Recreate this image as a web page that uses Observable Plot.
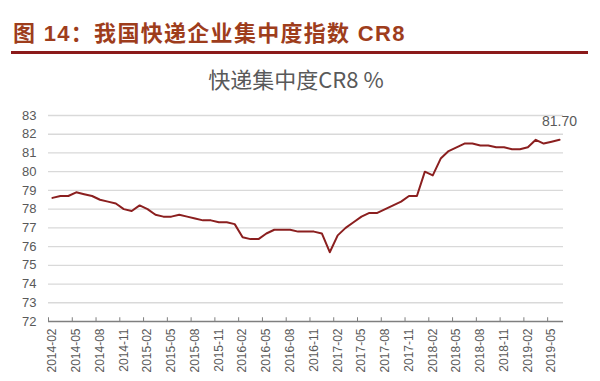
<!DOCTYPE html>
<html>
<head>
<meta charset="utf-8">
<script src="https://cdn.jsdelivr.net/npm/d3@7"></script>
<script src="https://cdn.jsdelivr.net/npm/@observablehq/plot@0.6"></script>
<style>
  html, body { margin: 0; padding: 0; background: #fff; }
  #page { position: relative; width: 600px; height: 381px; overflow: hidden; background: #fff; }
  #title { position: absolute; left: 13px; top: 21px; font-family: "Liberation Sans", "Noto Sans CJK SC", sans-serif; font-weight: bold; font-size: 22px; line-height: 26px; color: #9e3d1c; white-space: nowrap; letter-spacing: 1.3px; }
  #rule { position: absolute; left: 11px; top: 51px; width: 577px; height: 2.5px; background: #8b1a1a; }
  #subtitle { position: absolute; left: 0; width: 592px; top: 62px; text-align: center; font-family: "Noto Sans CJK SC", sans-serif; font-size: 22px; color: #595959; white-space: nowrap; }
  #chart { position: absolute; left: 0; top: 95px; }
</style>
</head>
<body>
<div id="page">
  <div id="title">图 14：我国快递企业集中度指数 CR8</div>
  <div id="rule"></div>
  <div id="subtitle">快递集中度CR8 %</div>
  <div id="chart"></div>
</div>
<script>
const months = [
  "2014-02","2014-03","2014-04","2014-05","2014-06","2014-07","2014-08","2014-09","2014-10","2014-11","2014-12",
  "2015-01","2015-02","2015-03","2015-04","2015-05","2015-06","2015-07","2015-08","2015-09","2015-10","2015-11","2015-12",
  "2016-01","2016-02","2016-03","2016-04","2016-05","2016-06","2016-07","2016-08","2016-09","2016-10","2016-11","2016-12",
  "2017-01","2017-02","2017-03","2017-04","2017-05","2017-06","2017-07","2017-08","2017-09","2017-10","2017-11","2017-12",
  "2018-01","2018-02","2018-03","2018-04","2018-05","2018-06","2018-07","2018-08","2018-09","2018-10","2018-11","2018-12",
  "2019-01","2019-02","2019-03","2019-04","2019-05","2019-06"
];
const cr8 = [
  78.6,78.7,78.7,78.9,78.8,78.7,78.5,78.4,78.3,78.0,77.9,
  78.2,78.0,77.7,77.6,77.6,77.7,77.6,77.5,77.4,77.4,77.3,77.3,
  77.2,76.5,76.4,76.4,76.7,76.9,76.9,76.9,76.8,76.8,76.8,76.7,
  75.7,76.6,77.0,77.3,77.6,77.8,77.8,78.0,78.2,78.4,78.7,78.7,
  80.0,79.8,80.7,81.1,81.3,81.5,81.5,81.4,81.4,81.3,81.3,81.2,
  81.2,81.3,81.7,81.5,81.6,81.7
];
const yTicks = [72,73,74,75,76,77,78,79,80,81,82,83];
const tickLabels = ["2014-02","2014-05","2014-08","2014-11","2015-02","2015-05","2015-08","2015-11",
  "2016-02","2016-05","2016-08","2016-11","2017-02","2017-05","2017-08","2017-11",
  "2018-02","2018-05","2018-08","2018-11","2019-02","2019-05"];
const lastLabel = "81.70";

const data = months.map((m, i) => ({i, m, v: cr8[i]}));
const labelData = tickLabels.map(m => ({m, i: months.indexOf(m)}));
const last = data[data.length - 1];

const chart = Plot.plot({
  width: 600,
  height: 286,
  marginLeft: 48,
  marginRight: 37,
  marginTop: 20,
  marginBottom: 60,
  style: { fontFamily: "'Liberation Sans', Arial, sans-serif", background: "transparent" },
  x: { type: "linear", domain: [-0.5, months.length - 0.5], axis: null },
  y: { domain: [72, 83], axis: null },
  marks: [
    Plot.ruleY(yTicks.filter(t => t > 72), { stroke: "#d9d9d9", strokeWidth: 1.3 }),
    Plot.ruleY([72], { stroke: "#7f7f7f", strokeWidth: 1.5 }),
    Plot.ruleX(labelData, { x: d => d.i - 0.5, y1: 72, y2: 72.2, stroke: "#7f7f7f", strokeWidth: 1 }),
    Plot.text(yTicks, { x: -0.5, y: d => d, text: d => String(d), textAnchor: "end", dx: -12, fontSize: 13, fill: "#595959" }),
    Plot.text(labelData, { x: "i", y: 72, text: "m", rotate: -90, textAnchor: "end", dy: 7, fontSize: 12, fill: "#595959" }),
    Plot.line(data, { x: "i", y: "v", stroke: "#8b1f1f", strokeWidth: 2 }),
    Plot.text([last], { x: "i", y: "v", text: () => lastLabel, dy: -18, fontSize: 14, fill: "#595959" })
  ]
});
document.getElementById("chart").appendChild(chart);
</script>
</body>
</html>
